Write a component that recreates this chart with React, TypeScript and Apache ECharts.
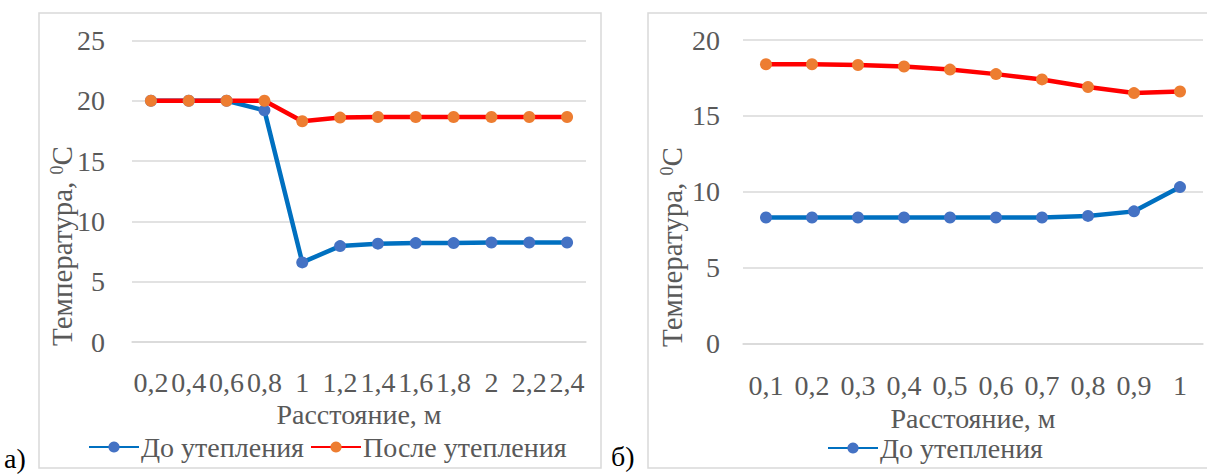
import React, { useEffect, useRef } from "react";
import * as echarts from "echarts";

const leftCategories = ["0,2", "0,4", "0,6", "0,8", "1", "1,2", "1,4", "1,6", "1,8", "2", "2,2", "2,4"];
const leftBefore = [20, 20, 20, 19.2, 6.6, 7.95, 8.15, 8.2, 8.2, 8.25, 8.25, 8.25];
const leftAfter = [20, 20, 20, 20, 18.3, 18.6, 18.65, 18.65, 18.65, 18.65, 18.65, 18.65];

const rightCategories = ["0,1", "0,2", "0,3", "0,4", "0,5", "0,6", "0,7", "0,8", "0,9", "1"];
const rightBefore = [8.3, 8.3, 8.3, 8.3, 8.3, 8.3, 8.3, 8.4, 8.7, 10.3];
const rightAfter = [18.4, 18.4, 18.35, 18.25, 18.05, 17.75, 17.4, 16.9, 16.5, 16.6];

const NAME_BEFORE = "До утепления";
const NAME_AFTER = "После утепления";
const X_TITLE = "Расстояние, м";

const FONT = "Liberation Serif, Times New Roman, serif";
const FS = 28;
const GRAY = "#595959";
const GRID_COLOR = "#d9d9d9";
const BLUE_LINE = "#0070C0";
const BLUE_MARK = "#4472C4";
const RED_LINE = "#FF0000";
const ORANGE_MARK = "#ED7D31";

export default function App() {
  const ref = useRef<HTMLDivElement>(null);

  useEffect(() => {
    document.body.style.margin = "0";
    const chart = echarts.init(ref.current!, null, { renderer: "svg" });

    const xAxisBase = (gridIndex: number, data: string[], margin: number, gap: number) => ({
      type: "category",
      gridIndex,
      data,
      boundaryGap: true,
      axisLine: { show: true, lineStyle: { color: GRID_COLOR, width: 1.5 } },
      axisTick: { show: false },
      axisLabel: { interval: 0, color: GRAY, fontFamily: FONT, fontSize: FS, lineHeight: FS, margin },
      name: X_TITLE,
      nameLocation: "middle",
      nameGap: gap,
      nameTextStyle: { color: GRAY, fontFamily: FONT, fontSize: FS, lineHeight: FS },
    });

    const yAxisBase = (gridIndex: number, max: number, margin: number) => ({
      type: "value",
      gridIndex,
      min: 0,
      max,
      interval: 5,
      axisLine: { show: false },
      axisTick: { show: false },
      splitLine: { show: true, lineStyle: { color: GRID_COLOR, width: 1.5 } },
      axisLabel: { color: GRAY, fontFamily: FONT, fontSize: FS, margin },
    });

    const lineSeries = (name: string, data: number[], idx: number, lineColor: string, markColor: string) => ({
      type: "line",
      name,
      data,
      xAxisIndex: idx,
      yAxisIndex: idx,
      symbol: "circle",
      symbolSize: 12,
      itemStyle: { color: markColor },
      lineStyle: { color: lineColor, width: 4.5 },
      emphasis: { disabled: true },
    });

    const titleText = (x: number, y: number) => ({
      type: "text",
      x,
      y,
      rotation: Math.PI / 2,
      style: {
        text: "Температура, {sup|0}С",
        fill: GRAY,
        fontFamily: FONT,
        fontSize: 29,
        align: "center",
        verticalAlign: "middle",
        rich: {
          sup: { fontSize: 18, fontFamily: FONT, fill: GRAY, verticalAlign: "top", padding: [0, 0, 11, 0] },
        },
      },
    });

    chart.setOption({
      animation: false,
      backgroundColor: "#ffffff",
      textStyle: { fontFamily: FONT },
      grid: [
        { left: 132, top: 40.4, width: 454, height: 301.6 },
        { left: 743, top: 40, width: 460, height: 303.3 },
      ],
      xAxis: [xAxisBase(0, leftCategories, 26, 56), xAxisBase(1, rightCategories, 28, 54)],
      yAxis: [yAxisBase(0, 25, 27), yAxisBase(1, 20, 23)],
      legend: [
        {
          left: 88,
          top: 433,
          itemWidth: 50,
          itemHeight: 14,
          itemGap: 6,
          padding: 0,
          data: [NAME_BEFORE, NAME_AFTER],
          textStyle: { color: GRAY, fontFamily: FONT, fontSize: FS, lineHeight: FS, padding: [0, 0, 0, -3] },
        },
        {
          left: 827,
          top: 434,
          itemWidth: 50,
          itemHeight: 14,
          padding: 0,
          data: [NAME_BEFORE],
          textStyle: { color: GRAY, fontFamily: FONT, fontSize: FS, lineHeight: FS, padding: [0, 0, 0, -3] },
        },
      ],
      series: [
        lineSeries(NAME_BEFORE, leftBefore, 0, BLUE_LINE, BLUE_MARK),
        lineSeries(NAME_AFTER, leftAfter, 0, RED_LINE, ORANGE_MARK),
        lineSeries(NAME_BEFORE, rightBefore, 1, BLUE_LINE, BLUE_MARK),
        lineSeries(NAME_AFTER, rightAfter, 1, RED_LINE, ORANGE_MARK),
      ],
      graphic: [
        { type: "rect", shape: { x: 39, y: 13, width: 562, height: 455 }, style: { fill: "none", stroke: GRID_COLOR, lineWidth: 1.5 }, silent: true, z: -1 },
        { type: "rect", shape: { x: 648, y: 13, width: 570, height: 455 }, style: { fill: "none", stroke: GRID_COLOR, lineWidth: 1.5 }, silent: true, z: -1 },
        titleText(62, 246),
        titleText(672, 247),
        { type: "text", x: 4, y: 444, style: { text: "а)", fill: "#000000", fontFamily: FONT, fontSize: 28 } },
        { type: "text", x: 611, y: 442, style: { text: "б)", fill: "#000000", fontFamily: FONT, fontSize: 28 } },
      ],
    });

    return () => chart.dispose();
  }, []);

  return <div ref={ref} style={{ width: 1207, height: 475 }} />;
}
